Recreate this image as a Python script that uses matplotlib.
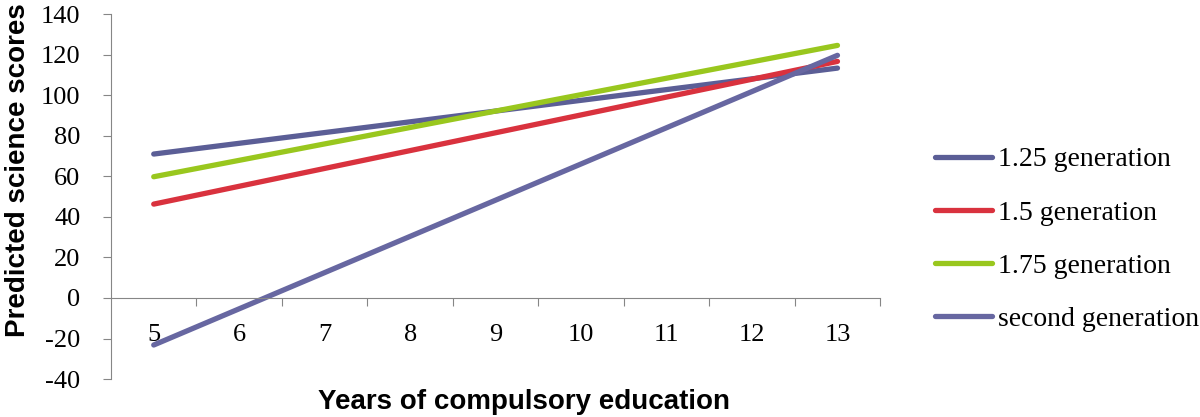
import matplotlib.pyplot as plt
from matplotlib.ticker import FixedLocator, FixedFormatter, NullFormatter

years = [5, 6, 7, 8, 9, 10, 11, 12, 13]
series_names = ["1.25 generation", "1.5 generation", "1.75 generation", "second generation"]
# predicted scores at the first and last year (straight lines)
start_scores = [71.0, 46.3, 59.8, -23.2]
end_scores = [113.4, 116.7, 124.6, 119.7]
colors = ["#5B5E96", "#D9323E", "#99C71E", "#6767A1"]
yticks = [-40, -20, 0, 20, 40, 60, 80, 100, 120, 140]

sans = ["Liberation Sans", "DejaVu Sans"]
plt.rcParams["font.family"] = ["Liberation Serif", "DejaVu Serif"]
plt.rcParams["font.size"] = 19

def main():
    fig = plt.figure(figsize=(12, 4.17), dpi=100)
    ax = fig.add_axes([0.0925, 0.091, 0.641, 0.875])

    pos = list(range(len(years)))
    for name, s, e, c in zip(series_names, start_scores, end_scores, colors):
        ax.plot([pos[0], pos[-1]], [s, e], color=c, lw=3.8,
                solid_capstyle="round", label=name)

    ax.set_xlim(-0.5, len(years) - 0.5)
    ax.set_ylim(-40, 140)
    ax.yaxis.set_major_locator(FixedLocator(yticks))
    ax.yaxis.set_major_formatter(FixedFormatter([str(v) for v in yticks]))

    # boundaries as major ticks, category labels on minor ticks
    ax.xaxis.set_major_locator(FixedLocator([p + 0.5 for p in pos]))
    ax.xaxis.set_major_formatter(NullFormatter())
    ax.xaxis.set_minor_locator(FixedLocator(pos))
    ax.xaxis.set_minor_formatter(FixedFormatter([str(y) for y in years]))
    ax.tick_params(axis="x", which="major", length=6, color="#868686", direction="out")
    ax.tick_params(axis="x", which="minor", length=0, pad=19, labelsize=19)
    ax.tick_params(axis="y", length=6, color="#868686", direction="out", pad=16, labelsize=19)

    for side in ["top", "right"]:
        ax.spines[side].set_visible(False)
    ax.spines["bottom"].set_position(("data", 0))
    ax.spines["left"].set_color("#868686")
    ax.spines["bottom"].set_color("#868686")

    fig.text(0.4367, 0.018, "Years of compulsory education", ha="center", va="baseline",
             family=sans, fontsize=20, fontweight="bold")
    fig.text(0.004, 0.592, "Predicted science scores", ha="left", va="center",
             rotation=90, family=sans, fontsize=20, fontweight="bold")

    leg = fig.legend(loc="center left", bbox_to_anchor=(0.758, 0.4255), frameon=False,
                     fontsize=20, labelspacing=1.0,
                     handlelength=2.05, handletextpad=0.22)
    for line in leg.get_lines():
        line.set_linewidth(3.8)

    fig.savefig("out.png", dpi=100)

if __name__ == "__main__":
    main()
